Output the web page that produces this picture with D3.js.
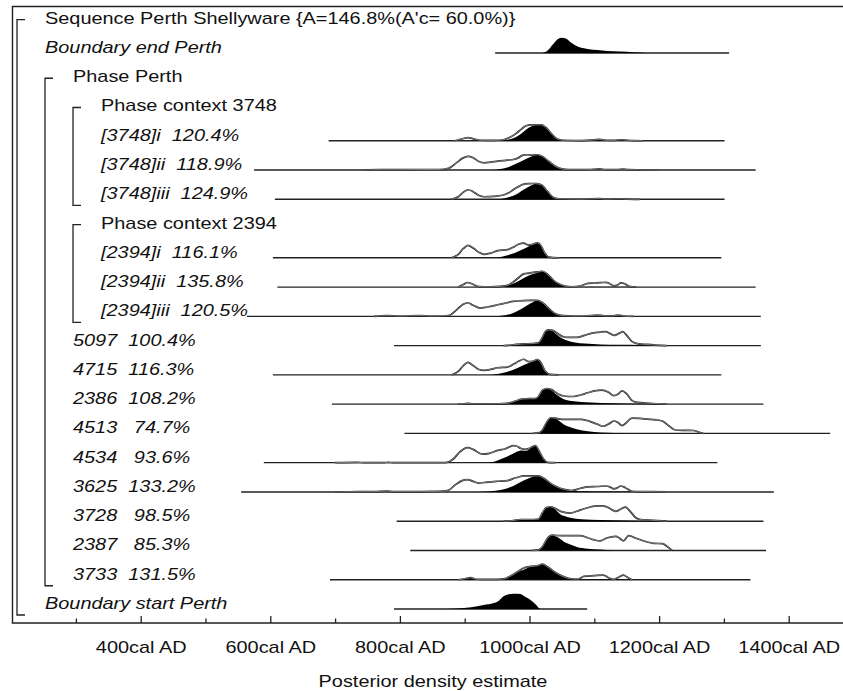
<!DOCTYPE html>
<html>
<head>
<meta charset="utf-8">
<script src="https://cdn.jsdelivr.net/npm/d3@7"></script>
<style>
  body { margin: 0; background: #fff; }
</style>
</head>
<body>
<svg id="chart" width="843" height="691"></svg>
<script>
// row labels, top to bottom, as OxCal prints them
const rows = [
  "Sequence Perth Shellyware {A=146.8%(A'c= 60.0%)}",
  "Boundary end Perth",
  "Phase Perth",
  "Phase context 3748",
  "[3748]i  120.4%",
  "[3748]ii  118.9%",
  "[3748]iii  124.9%",
  "Phase context 2394",
  "[2394]i  116.1%",
  "[2394]ii  135.8%",
  "[2394]iii  120.5%",
  "5097  100.4%",
  "4715  116.3%",
  "2386  108.2%",
  "4513   74.7%",
  "4534   93.6%",
  "3625  133.2%",
  "3728   98.5%",
  "2387   85.3%",
  "3733  131.5%",
  "Boundary start Perth"
];
const rowType = ["group", "boundary", "group", "group", "date", "date", "date", "group", "date", "date", "date",
  "date", "date", "date", "date", "date", "date", "date", "date", "date", "boundary"];
const rowLevel = [0, 0, 1, 2, 2, 2, 2, 2, 2, 2, 2, 1, 1, 1, 1, 1, 1, 1, 1, 1, 0];

// span of the plotted range for each row (cal AD)
const rangeStart = [null, 947, null, null, 690, 575, 607, null, 604, 611, 564, 791, 604, 695, 807, 590, 555, 795, 816, 692, 791];
const rangeEnd = [null, 1308, null, null, 1301, 1349, 1301, null, 1296, 1349, 1357, 1357, 1296, 1361, 1464, 1290, 1377, 1361, 1365, 1341, 1089];

// posterior (filled) and unmodelled likelihood (outline), [year, relative density]
const posterior = [
  null,
  [[1020,0],[1028,0.15],[1036,0.5],[1044,0.82],[1050,0.9],[1056,0.85],[1064,0.62],[1072,0.42],[1080,0.3],[1092,0.22],[1105,0.17],[1120,0.12],[1140,0.08],[1160,0.04],[1175,0.015],[1185,0]],
  null,
  null,
  [[955,0],[965,0.05],[975,0.15],[985,0.35],[993,0.6],[1000,0.8],[1007,0.9],[1013,0.97],[1018,0.98],[1024,0.85],[1032,0.5],[1040,0.15],[1050,0.03],[1065,0.01],[1100,0.03],[1108,0.05],[1118,0.02],[1140,0.04],[1150,0.02],[1170,0]],
  [[940,0],[955,0.06],[968,0.18],[980,0.38],[992,0.6],[1002,0.78],[1010,0.9],[1014,0.92],[1022,0.75],[1032,0.42],[1042,0.15],[1052,0.04],[1062,0.01],[1100,0.02],[1108,0.04],[1118,0.01],[1144,0.03],[1160,0.01],[1180,0]],
  [[950,0],[960,0.05],[970,0.15],[980,0.3],[990,0.55],[998,0.72],[1005,0.85],[1010,0.93],[1016,0.9],[1024,0.65],[1032,0.3],[1040,0.08],[1050,0.01],[1108,0.03],[1118,0.01],[1140,0.02],[1150,0],[1170,0]],
  null,
  [[945,0],[955,0.05],[966,0.15],[978,0.3],[990,0.5],[1000,0.7],[1007,0.82],[1012,0.9],[1018,0.65],[1024,0.25],[1030,0.04],[1045,0]],
  [[955,0],[966,0.08],[978,0.25],[990,0.5],[1000,0.7],[1008,0.8],[1014,0.86],[1020,0.94],[1028,0.7],[1037,0.4],[1046,0.18],[1055,0.07],[1065,0.02],[1075,0.01],[1100,0.02],[1120,0.02],[1141,0.02],[1155,0]],
  [[950,0],[962,0.06],[975,0.2],[988,0.45],[998,0.68],[1006,0.85],[1012,0.94],[1020,0.8],[1030,0.45],[1040,0.15],[1052,0.05],[1065,0.01],[1105,0.03],[1138,0.03],[1155,0]],
  [[960,0],[975,0.05],[990,0.1],[1005,0.12],[1014,0.14],[1020,0.45],[1025,0.82],[1030,0.9],[1036,0.85],[1042,0.65],[1048,0.48],[1058,0.3],[1070,0.18],[1085,0.12],[1110,0.07],[1140,0.05],[1170,0.04],[1195,0.02],[1212,0]],
  [[940,0],[951,0.05],[962,0.14],[975,0.3],[988,0.52],[998,0.68],[1006,0.82],[1012,0.92],[1018,0.62],[1024,0.2],[1032,0.03],[1045,0]],
  [[890,0],[900,0.02],[905,0.04],[912,0.02],[940,0.02],[965,0.05],[980,0.2],[988,0.3],[1000,0.32],[1008,0.32],[1014,0.45],[1020,0.8],[1027,0.9],[1034,0.82],[1042,0.55],[1052,0.3],[1065,0.18],[1080,0.12],[1110,0.07],[1150,0.04],[1190,0.02],[1212,0]],
  [[1005,0],[1014,0.03],[1019,0.15],[1026,0.6],[1033,0.9],[1040,0.88],[1047,0.7],[1053,0.52],[1062,0.38],[1073,0.25],[1090,0.12],[1110,0.05],[1130,0.02],[1150,0]],
  [[930,0],[945,0.06],[960,0.28],[972,0.48],[981,0.65],[987,0.72],[995,0.7],[1002,0.85],[1009,1.0],[1016,0.6],[1022,0.2],[1028,0.02],[1040,0]],
  [[920,0],[940,0.04],[955,0.12],[966,0.22],[975,0.35],[985,0.55],[991,0.67],[1000,0.82],[1009,0.94],[1017,0.94],[1024,0.75],[1032,0.52],[1042,0.3],[1053,0.15],[1065,0.08],[1078,0.04],[1100,0.03],[1140,0.02],[1170,0.01],[1212,0]],
  [[960,0],[975,0.04],[986,0.1],[1000,0.1],[1014,0.12],[1020,0.45],[1026,0.78],[1032,0.83],[1038,0.75],[1048,0.4],[1056,0.28],[1063,0.2],[1080,0.12],[1110,0.07],[1150,0.04],[1190,0.02],[1212,0]],
  [[1005,0],[1014,0.03],[1020,0.2],[1027,0.65],[1035,0.875],[1042,0.8],[1053,0.52],[1063,0.35],[1073,0.2],[1090,0.1],[1109,0.05],[1130,0]],
  [[890,0],[900,0.06],[909,0.12],[918,0.03],[940,0.02],[960,0.04],[972,0.2],[983,0.45],[991,0.58],[998,0.72],[1004,0.79],[1012,0.8],[1020,0.92],[1028,0.75],[1040,0.42],[1053,0.17],[1065,0.05],[1080,0.02],[1114,0.03],[1145,0.03],[1158,0]],
  [[870,0],[888,0.03],[910,0.1],[929,0.23],[945,0.35],[951,0.44],[960,0.75],[968,0.87],[975,0.9],[986,0.88],[994,0.7],[1001,0.54],[1010,0.25],[1017,0],[1025,0]]
];

const likelihood = [
  null, null, null, null,
  [[885,0],[897,0.12],[905,0.19],[915,0.1],[925,0.03],[945,0.02],[960,0.06],[970,0.2],[980,0.45],[988,0.7],[995,0.88],[1002,0.93],[1012,0.94],[1018,0.93],[1026,0.75],[1034,0.4],[1042,0.12],[1052,0.03],[1080,0.01],[1100,0.05],[1108,0.08],[1118,0.03],[1130,0.02],[1140,0.06],[1148,0.04],[1160,0.01],[1175,0]],
  [[740,0],[770,0.02],[800,0.02],[830,0.03],[860,0.03],[875,0.1],[888,0.45],[897,0.7],[905,0.8],[913,0.72],[922,0.5],[930,0.42],[940,0.46],[951,0.52],[966,0.58],[975,0.62],[982,0.7],[990,0.88],[997,0.9],[1004,0.88],[1012,0.9],[1020,0.8],[1030,0.5],[1040,0.22],[1050,0.07],[1060,0.02],[1090,0.02],[1108,0.07],[1118,0.02],[1135,0.02],[1144,0.06],[1152,0.02],[1170,0.01],[1200,0]],
  [[880,0],[890,0.15],[898,0.42],[905,0.56],[913,0.45],[922,0.22],[930,0.15],[945,0.17],[960,0.25],[968,0.38],[975,0.56],[982,0.72],[990,0.88],[998,0.92],[1006,0.93],[1010,0.92],[1018,0.85],[1028,0.45],[1036,0.12],[1045,0.03],[1080,0.01],[1108,0.04],[1118,0.01],[1140,0.03],[1150,0.01],[1170,0]],
  null,
  [[880,0],[890,0.2],[898,0.55],[905,0.73],[913,0.58],[922,0.32],[930,0.2],[940,0.28],[951,0.42],[966,0.48],[975,0.62],[983,0.8],[991,0.87],[998,0.75],[1004,0.78],[1012,0.88],[1018,0.7],[1024,0.25],[1030,0.04],[1045,0]],
  [[890,0],[898,0.15],[904,0.27],[912,0.18],[922,0.03],[940,0.02],[955,0.04],[966,0.1],[975,0.3],[983,0.55],[991,0.78],[1000,0.82],[1008,0.88],[1014,0.9],[1020,0.93],[1028,0.75],[1037,0.4],[1046,0.18],[1055,0.06],[1065,0.02],[1080,0.08],[1090,0.22],[1100,0.24],[1110,0.26],[1118,0.28],[1124,0.2],[1130,0.07],[1136,0.12],[1141,0.25],[1147,0.2],[1154,0.04],[1165,0]],
  [[760,0],[780,0.04],[800,0.02],[830,0.05],[850,0.02],[875,0.05],[888,0.4],[897,0.7],[905,0.8],[913,0.65],[924,0.48],[935,0.55],[951,0.68],[965,0.8],[975,0.88],[990,0.93],[1000,0.94],[1012,0.94],[1020,0.8],[1030,0.45],[1040,0.15],[1052,0.04],[1070,0.02],[1095,0.05],[1105,0.08],[1115,0.03],[1130,0.03],[1138,0.08],[1146,0.02],[1160,0]],
  [[960,0],[975,0.05],[990,0.1],[1005,0.12],[1014,0.16],[1020,0.5],[1025,0.85],[1030,0.92],[1036,0.9],[1044,0.7],[1052,0.52],[1060,0.48],[1073,0.48],[1085,0.6],[1095,0.72],[1110,0.8],[1118,0.82],[1124,0.72],[1131,0.6],[1138,0.72],[1144,0.82],[1150,0.6],[1158,0.25],[1166,0.12],[1180,0.07],[1195,0.03],[1212,0]],
  [[880,0],[890,0.2],[898,0.55],[905,0.73],[913,0.55],[922,0.32],[930,0.27],[940,0.32],[951,0.42],[966,0.46],[975,0.62],[983,0.8],[991,0.92],[998,0.78],[1005,0.8],[1012,0.9],[1018,0.7],[1024,0.22],[1032,0.03],[1045,0]],
  [[890,0],[900,0.02],[905,0.04],[912,0.02],[940,0.02],[965,0.05],[980,0.2],[988,0.3],[1000,0.32],[1008,0.32],[1014,0.45],[1020,0.82],[1027,0.92],[1034,0.86],[1044,0.6],[1053,0.48],[1068,0.45],[1080,0.55],[1090,0.67],[1100,0.78],[1112,0.83],[1122,0.7],[1130,0.5],[1137,0.6],[1143,0.78],[1150,0.6],[1158,0.22],[1166,0.1],[1185,0.05],[1212,0]],
  [[1005,0],[1014,0.03],[1019,0.15],[1026,0.62],[1033,0.92],[1040,0.9],[1047,0.84],[1055,0.83],[1070,0.83],[1080,0.82],[1092,0.72],[1104,0.55],[1114,0.42],[1122,0.55],[1130,0.73],[1136,0.65],[1143,0.46],[1150,0.65],[1158,0.9],[1170,0.88],[1182,0.84],[1195,0.8],[1205,0.73],[1215,0.45],[1225,0.2],[1240,0.18],[1253,0.17],[1262,0.06],[1268,0]],
  [[700,0],[734,0.02],[745,0],[775,0],[782,0.02],[790,0],[870,0],[882,0.2],[893,0.65],[904,0.88],[913,0.78],[927,0.5],[938,0.55],[951,0.72],[963,0.82],[975,1.0],[980,0.98],[986,0.85],[993,0.78],[1000,0.85],[1009,1.0],[1016,0.6],[1022,0.2],[1028,0.02],[1040,0]],
  [[700,0],[720,0.01],[760,0.02],[780,0.05],[790,0.02],[830,0.02],[860,0.03],[875,0.1],[885,0.4],[895,0.65],[905,0.73],[913,0.62],[921,0.52],[935,0.58],[951,0.63],[966,0.67],[975,0.78],[983,0.88],[991,0.94],[1005,0.94],[1014,0.94],[1022,0.8],[1032,0.52],[1042,0.3],[1053,0.15],[1065,0.08],[1078,0.2],[1090,0.3],[1105,0.32],[1118,0.35],[1124,0.3],[1130,0.18],[1136,0.25],[1141,0.35],[1148,0.25],[1158,0.04],[1180,0.02],[1212,0]],
  [[960,0],[975,0.04],[986,0.1],[1000,0.1],[1014,0.13],[1020,0.5],[1026,0.8],[1032,0.85],[1040,0.75],[1048,0.58],[1063,0.48],[1074,0.6],[1084,0.73],[1095,0.85],[1104,0.9],[1114,0.9],[1124,0.75],[1133,0.58],[1141,0.72],[1148,0.83],[1156,0.55],[1164,0.2],[1171,0.1],[1190,0.05],[1212,0]],
  [[1005,0],[1014,0.03],[1020,0.22],[1027,0.68],[1035,0.9],[1042,0.88],[1050,0.875],[1065,0.875],[1078,0.875],[1090,0.75],[1100,0.62],[1109,0.56],[1119,0.73],[1133,0.83],[1139,0.72],[1145,0.56],[1153,0.875],[1162,0.75],[1171,0.63],[1182,0.5],[1192,0.42],[1205,0.4],[1212,0.25],[1220,0]],
  [[890,0],[900,0.06],[909,0.12],[918,0.03],[940,0.02],[960,0.05],[972,0.25],[983,0.5],[991,0.69],[998,0.76],[1004,0.79],[1012,0.82],[1020,0.92],[1028,0.75],[1040,0.42],[1053,0.17],[1065,0.05],[1075,0.04],[1084,0.2],[1100,0.24],[1114,0.27],[1122,0.12],[1130,0.02],[1138,0.15],[1145,0.27],[1152,0.12],[1158,0]],
  null
];

const majorTicks = [400, 600, 800, 1000, 1200, 1400];
const minorTicks = [300, 500, 700, 900, 1100, 1300];
const axisTitle = "Posterior density estimate";

const svg = d3.select("#chart");
const font = "'Liberation Sans', Arial, sans-serif";
const stretch = "scale(1.17,1)";   // the original text is a little wide

const x = d3.scaleLinear().domain([400, 1400]).range([140.7, 788.7]);
const rowY = d3.scalePoint().domain(d3.range(rows.length)).range([23.7, 609]);
const h = d3.scaleLinear().domain([0, 1]).range([0, 17]);
const indent = d3.scaleLinear().domain([0, 1]).range([45, 73]);

const frameLeft = 12.5, frameTop = 6.5, axisY = 623;

// frame
svg.append("path")
  .attr("d", `M843,${frameTop}H${frameLeft}V${axisY}H843`)
  .attr("fill", "none")
  .attr("stroke", "#222")
  .attr("stroke-width", 1.4);

// brackets for Sequence / Phase groups
rows.forEach((r, i) => {
  if (rowType[i] !== "group") return;
  const L = rowLevel[i];
  let last = i;
  for (let j = i + 1; j < rows.length; j++) {
    if (rowLevel[j] < L) break;
    if (rowType[j] === "group" && rowLevel[j] <= L) break;
    last = j;
  }
  const bx = indent(L) - 28;
  const y0 = rowY(i) - 4, y1 = rowY(last) + 6;
  svg.append("path")
    .attr("d", `M${bx + 8},${y0}H${bx}V${y1}H${bx + 8}`)
    .attr("fill", "none")
    .attr("stroke", "#222")
    .attr("stroke-width", 1.3);
});

// labels
svg.selectAll("text.label")
  .data(rows)
  .join("text")
  .attr("class", "label")
  .attr("transform", (d, i) => `translate(${indent(rowLevel[i])},${rowY(i)}) ${stretch}`)
  .attr("font-family", font)
  .attr("font-size", 17)
  .attr("font-style", (d, i) => rowType[i] === "group" ? "normal" : "italic")
  .attr("fill", "#111")
  .style("white-space", "pre")
  .text(d => d);

// distributions
const area = d3.area()
  .curve(d3.curveMonotoneX)
  .x(d => x(d[0]))
  .y0(0)
  .y1(d => -h(d[1]));
const line = d3.line()
  .curve(d3.curveMonotoneX)
  .x(d => x(d[0]))
  .y(d => -h(d[1]));

rows.forEach((r, i) => {
  if (rangeStart[i] == null) return;
  const g = svg.append("g").attr("transform", `translate(0,${rowY(i)})`);
  g.append("line")
    .attr("x1", x(rangeStart[i]))
    .attr("x2", x(rangeEnd[i]))
    .attr("stroke", "#222")
    .attr("stroke-width", 1.4);
  if (posterior[i]) {
    g.append("path").attr("d", area(posterior[i])).attr("fill", "#000");
  }
  if (likelihood[i]) {
    g.append("path").attr("d", line(likelihood[i]))
      .attr("fill", "none").attr("stroke", "#111").attr("stroke-width", 1.7);
    g.append("path").attr("d", line(likelihood[i]))
      .attr("fill", "none").attr("stroke", "#fff").attr("stroke-width", 0.45);
  }
});

// axis
const axisG = svg.append("g").attr("transform", `translate(0,${axisY})`);
axisG.call(d3.axisBottom(x).tickValues(majorTicks).tickSize(-7).tickPadding(18).tickFormat(d => d + "cal AD"));
axisG.call(g => g.select(".domain").remove());
axisG.selectAll("line").attr("stroke", "#222").attr("stroke-width", 1.3);
axisG.selectAll("text")
  .attr("font-family", font)
  .attr("font-size", 17)
  .attr("fill", "#111")
  .attr("transform", stretch);

const minorG = svg.append("g").attr("transform", `translate(0,${axisY})`);
minorG.call(d3.axisBottom(x).tickValues(minorTicks).tickSize(-4.5).tickFormat(""));
minorG.call(g => g.select(".domain").remove());
minorG.selectAll("line").attr("stroke", "#222").attr("stroke-width", 1.3);

svg.append("text")
  .attr("transform", `translate(433,687) ${stretch}`)
  .attr("text-anchor", "middle")
  .attr("font-family", font)
  .attr("font-size", 17)
  .attr("fill", "#111")
  .text(axisTitle);
</script>
</body>
</html>
